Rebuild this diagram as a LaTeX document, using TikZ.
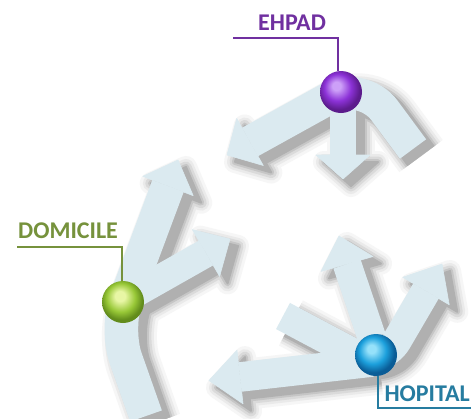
\documentclass[tikz,border=0pt]{standalone}
\usepackage{fontspec}
\setmainfont{Carlito}
\usetikzlibrary{calc}
\definecolor{arrowfill}{RGB}{219,234,240}
\definecolor{ehpadtxt}{RGB}{112,48,160}
\definecolor{domtxt}{RGB}{118,146,60}
\definecolor{hoptxt}{RGB}{38,124,160}
\definecolor{ehHi}{RGB}{205,160,248}
\definecolor{ehMid}{RGB}{140,50,215}
\definecolor{ehDk}{RGB}{92,28,140}
\definecolor{doHi}{RGB}{232,246,165}
\definecolor{doMid}{RGB}{152,200,55}
\definecolor{doDk}{RGB}{98,140,28}
\definecolor{hoHi}{RGB}{150,225,250}
\definecolor{hoMid}{RGB}{28,160,220}
\definecolor{hoDk}{RGB}{10,92,150}
\definecolor{shA}{RGB}{246,246,246}
\definecolor{shB}{RGB}{234,234,234}
\definecolor{shC}{RGB}{218,218,218}
\definecolor{shD}{RGB}{198,198,198}
\definecolor{shE}{RGB}{176,176,176}
\pgfdeclareradialshading{ballE}{\pgfqpoint{-6bp}{8bp}}{color(0bp)=(ehHi); color(5bp)=(ehHi); color(16bp)=(ehMid); color(25bp)=(ehDk); color(50bp)=(ehDk)}
\pgfdeclareradialshading{ballD}{\pgfqpoint{-4bp}{8bp}}{color(0bp)=(doHi); color(6bp)=(doHi); color(17bp)=(doMid); color(25bp)=(doDk); color(50bp)=(doDk)}
\pgfdeclareradialshading{ballH}{\pgfqpoint{-6bp}{8bp}}{color(0bp)=(hoHi); color(5bp)=(hoHi); color(16bp)=(hoMid); color(25bp)=(hoDk); color(50bp)=(hoDk)}
\newcommand\tubepath[3]{\draw[line width=#1, rounded corners=#2] #3;}
\newcommand\headpath[3]{\filldraw[line width=#3, line join=round] ($#1!27pt!90:#2$) -- #2 -- ($#1!27pt!-90:#2$) -- cycle;}
\newcommand\ehpadall[1]{%
  \tubepath{26pt+#1}{10pt}{(343,100) -- (343,155)}
  \headpath{(343,155)}{(343,179)}{#1}
  \tubepath{32pt+#1}{38pt}{(413,149) -- (362,80) -- (250,142)}
  \headpath{(250,142)}{(227,155)}{#1}}
\newcommand\domall[1]{%
  \tubepath{28pt+#1}{10pt}{(123,300) -- (206,253)}
  \headpath{(206,253)}{(230,239)}{#1}
  \tubepath{33pt+#1}{32pt}{(146,416) -- (115,328) -- (168,186)}
  \headpath{(168,186)}{(178,160)}{#1}}
\newcommand\hopall[1]{%
  \tubepath{29pt+#1}{10pt}{(372,362) -- (240,377)}
  \headpath{(240,377)}{(209,380.5)}{#1}
  \tubepath{28pt+#1}{10pt}{(372,338) -- (347,264)}
  \headpath{(347,264)}{(339,236)}{#1}
  \tubepath{29pt+#1}{32pt}{(283,316) -- (381,368) -- (426,291)}
  \headpath{(426,291)}{(442,264)}{#1}}
\tikzset{
  ballnode/.style={circle, minimum size=42pt, inner sep=0pt, shade},
  labeltext/.style={anchor=base west, inner sep=0pt, font=\bfseries\fontsize{24}{24}\selectfont},
  labelline/.style={line width=2pt}
}
\begin{document}
\begin{tikzpicture}[x=1pt, y=-1pt]
\fill[white] (0,0) rectangle (471,418);
\useasboundingbox (0,0) rectangle (471,418);
% soft drop shadows
\begin{scope}[shift={(8,7)}]
  \foreach \e/\c in {22/shA, 16/shB, 11/shC, 6/shD, 2/shE} {
    \begin{scope}[color=\c]
      \ehpadall{\e pt}
      \domall{\e pt}
      \hopall{\e pt}
    \end{scope}
  }
\end{scope}
% arrows
\begin{scope}[color=arrowfill]
  \ehpadall{0.6pt}
  \domall{0.6pt}
  \hopall{0.6pt}
\end{scope}
% balls
\node[ballnode, shading=ballE] (ehball) at (341,92) {};
\node[ballnode, shading=ballD] (doball) at (123,302) {};
\node[ballnode, shading=ballH] (hoball) at (376,355) {};
% labels
\node[labeltext, text=ehpadtxt] (ehlab) at (258,30) {EHPAD};
\node[labeltext, text=domtxt] (dolab) at (18,238) {DOMICILE};
\node[labeltext, anchor=base east, text=hoptxt] (holab) at (470,401) {HOPITAL};
\coordinate (ehl) at (233,38);
\coordinate (dol) at (17,247);
\coordinate (hol) at (471,408);
\draw[labelline, ehpadtxt] (ehl) -| ([xshift=-3pt]ehball.north);
\draw[labelline, domtxt] (dol) -| ([xshift=-1pt]doball.north);
\draw[labelline, hoptxt] (hol) -| ([xshift=2pt]hoball.south);
\end{tikzpicture}
\end{document}
